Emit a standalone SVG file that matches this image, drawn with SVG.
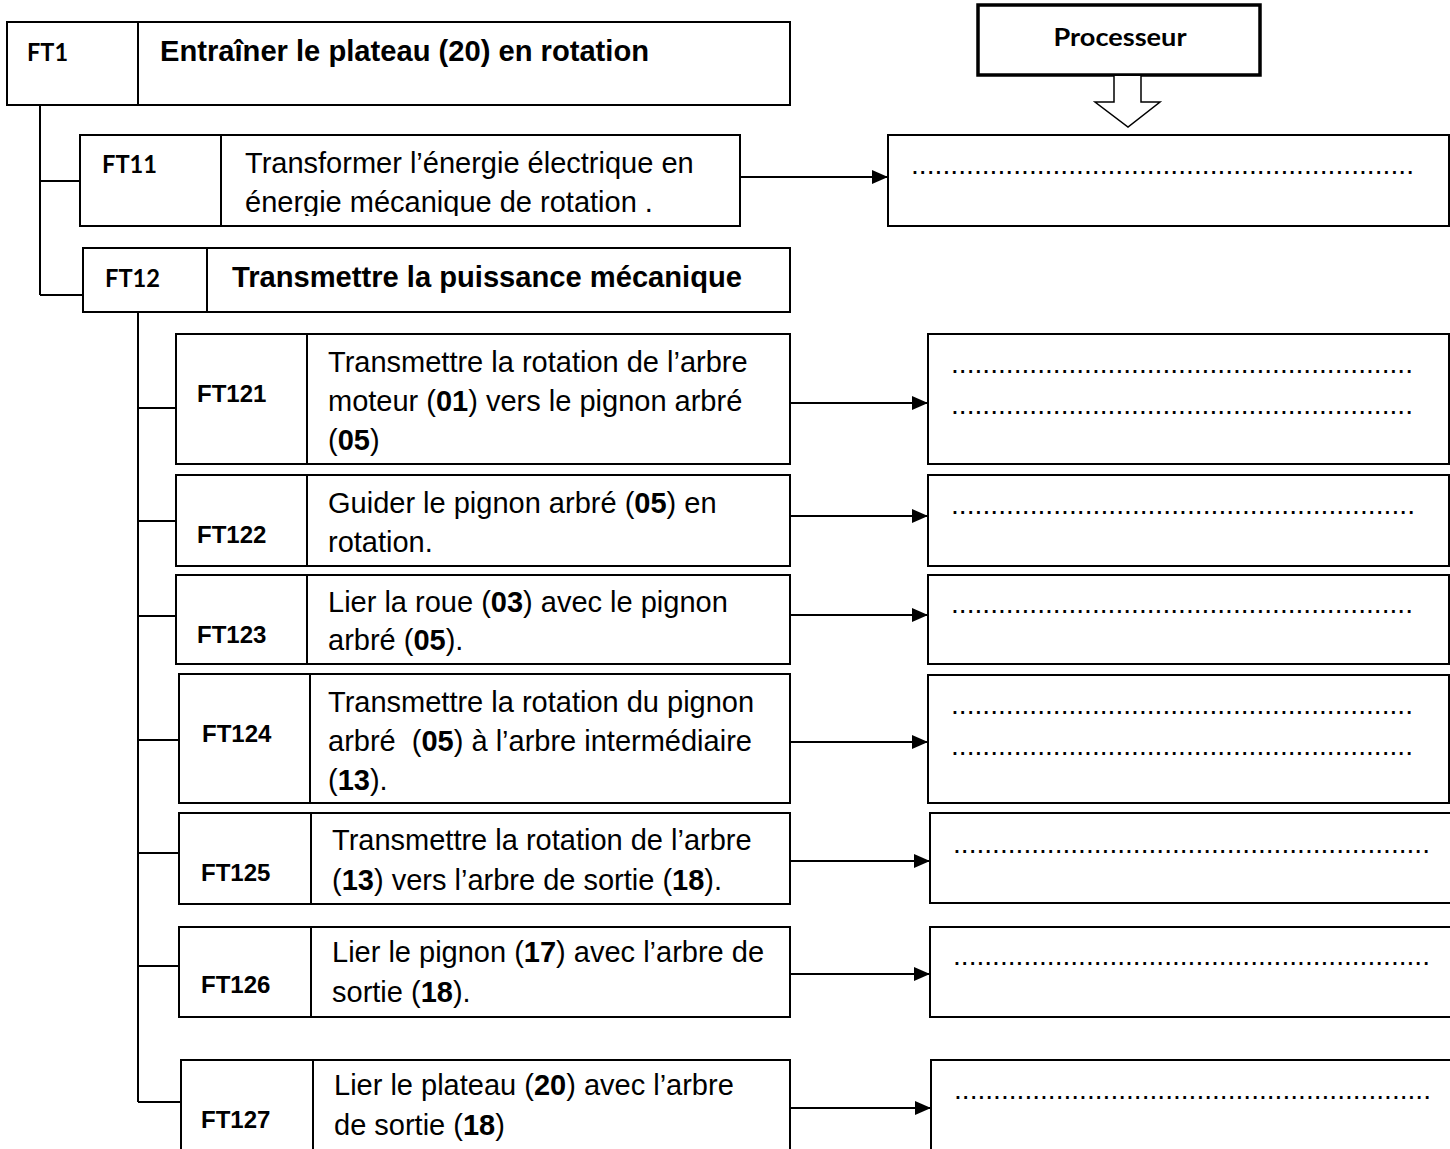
<svg xmlns="http://www.w3.org/2000/svg" width="1450" height="1149" viewBox="0 0 1450 1149">
<style>
.box{fill:#fff;stroke:#000;stroke-width:2}
.ln{stroke:#000;stroke-width:2;fill:none}
.arr{stroke:#000;stroke-width:2;fill:none;marker-end:url(#ah)}
.lbl{font-family:Lato,"Liberation Sans",sans-serif;font-weight:bold;font-size:24px;fill:#000}
.lab{font-family:"Liberation Sans",Arial,sans-serif;font-weight:bold;font-size:24px;fill:#000}
.t{font-family:"Liberation Sans",Arial,sans-serif;font-size:29px;fill:#000}
.tb{font-family:"Liberation Sans",Arial,sans-serif;font-size:29px;font-weight:bold;fill:#000}
.b{font-weight:bold}
.dots{font-family:"Liberation Sans",Arial,sans-serif;font-size:28px;fill:#000}
</style>
<defs>
<marker id="ah" viewBox="0 0 16 14" refX="16" refY="7" markerWidth="16" markerHeight="14" markerUnits="userSpaceOnUse" orient="auto">
<path d="M0,0 L16,7 L0,14 z" fill="#000"/>
</marker>
<clipPath id="clip11"><rect x="222" y="136" width="517" height="80"/></clipPath>
</defs>
<rect width="1450" height="1149" fill="#fff"/>

<g id="connectors">
<path class="ln" d="M40,105 V295 M40,181 H80 M40,295 H83"/>
<path class="ln" d="M138,312 V1102 M138,408 H176 M138,521 H176 M138,616 H176 M138,740 H179 M138,853 H179 M138,966 H179 M138,1102 H181"/>
<line class="arr" x1="740" y1="177" x2="888" y2="177"/>
<line class="arr" x1="790" y1="403" x2="928" y2="403"/>
<line class="arr" x1="790" y1="516" x2="928" y2="516"/>
<line class="arr" x1="790" y1="615" x2="928" y2="615"/>
<line class="arr" x1="790" y1="742" x2="928" y2="742"/>
<line class="arr" x1="790" y1="861" x2="930" y2="861"/>
<line class="arr" x1="790" y1="974" x2="930" y2="974"/>
<line class="arr" x1="790" y1="1108" x2="931" y2="1108"/>
</g>

<g id="processeur">
<rect x="978" y="5" width="282" height="70" fill="#fff" stroke="#000" stroke-width="3.5"/>
<text class="lbl" x="1120" y="46" text-anchor="middle" textLength="133" lengthAdjust="spacingAndGlyphs">Processeur</text>
<path d="M1114,76 V102 H1095 L1128,127 L1160,102 H1141 V76" fill="#fff" stroke="#000" stroke-width="1.5"/>
</g>

<g id="FT1">
<rect class="box" x="7" y="22" width="783" height="83"/>
<line class="ln" x1="138" y1="22" x2="138" y2="105"/>
<text class="lbl" x="27" y="61" textLength="41" lengthAdjust="spacingAndGlyphs">FT1</text>
<text class="tb" x="160" y="61" textLength="489" lengthAdjust="spacingAndGlyphs">Entraîner le plateau (20) en rotation</text>
</g>

<g id="FT11">
<rect class="box" x="80" y="135" width="660" height="91"/>
<line class="ln" x1="221" y1="135" x2="221" y2="226"/>
<text class="lbl" x="102" y="173" textLength="55" lengthAdjust="spacingAndGlyphs">FT11</text>
<g clip-path="url(#clip11)">
<text class="t" x="245" y="173">Transformer l’énergie électrique en</text>
<text class="t" x="245" y="212">énergie mécanique de rotation .</text>
</g>
</g>
<g id="R11">
<rect class="box" x="888" y="135" width="561" height="91"/>
<text class="dots" x="911" y="174" textLength="503" lengthAdjust="spacingAndGlyphs">................................................................</text>
</g>

<g id="FT12">
<rect class="box" x="83" y="248" width="707" height="64"/>
<line class="ln" x1="207" y1="248" x2="207" y2="312"/>
<text class="lbl" x="105" y="287" textLength="55" lengthAdjust="spacingAndGlyphs">FT12</text>
<text class="tb" x="232" y="287" textLength="510" lengthAdjust="spacingAndGlyphs">Transmettre la puissance mécanique</text>
</g>

<g id="FT121">
<rect class="box" x="176" y="334" width="614" height="130"/>
<line class="ln" x1="307" y1="334" x2="307" y2="464"/>
<text class="lab" x="197" y="402">FT121</text>
<text class="t" x="328" y="372">Transmettre la rotation de l’arbre</text>
<text class="t" x="328" y="411">moteur (<tspan class="b">01</tspan>) vers le pignon arbré</text>
<text class="t" x="328" y="450">(<tspan class="b">05</tspan>)</text>
</g>
<g id="R121">
<rect class="box" x="928" y="334" width="521" height="130"/>
<text class="dots" x="951" y="373" textLength="462" lengthAdjust="spacingAndGlyphs">...........................................................</text>
<text class="dots" x="951" y="414" textLength="462" lengthAdjust="spacingAndGlyphs">...........................................................</text>
</g>

<g id="FT122">
<rect class="box" x="176" y="475" width="614" height="91"/>
<line class="ln" x1="307" y1="475" x2="307" y2="566"/>
<text class="lab" x="197" y="543">FT122</text>
<text class="t" x="328" y="513">Guider le pignon arbré (<tspan class="b">05</tspan>) en</text>
<text class="t" x="328" y="552">rotation.</text>
</g>
<g id="R122">
<rect class="box" x="928" y="475" width="521" height="91"/>
<text class="dots" x="951" y="514" textLength="464" lengthAdjust="spacingAndGlyphs">...........................................................</text>
</g>

<g id="FT123">
<rect class="box" x="176" y="575" width="614" height="89"/>
<line class="ln" x1="307" y1="575" x2="307" y2="664"/>
<text class="lab" x="197" y="643">FT123</text>
<text class="t" x="328" y="612">Lier la roue (<tspan class="b">03</tspan>) avec le pignon</text>
<text class="t" x="328" y="650">arbré (<tspan class="b">05</tspan>).</text>
</g>
<g id="R123">
<rect class="box" x="928" y="575" width="521" height="89"/>
<text class="dots" x="951" y="613" textLength="462" lengthAdjust="spacingAndGlyphs">...........................................................</text>
</g>

<g id="FT124">
<rect class="box" x="179" y="674" width="611" height="129"/>
<line class="ln" x1="310" y1="674" x2="310" y2="803"/>
<text class="lab" x="202" y="742">FT124</text>
<text class="t" x="328" y="712">Transmettre la rotation du pignon</text>
<text class="t" x="328" y="751" xml:space="preserve">arbré  (<tspan class="b">05</tspan>) à l’arbre intermédiaire</text>
<text class="t" x="328" y="790">(<tspan class="b">13</tspan>).</text>
</g>
<g id="R124">
<rect class="box" x="928" y="675" width="521" height="128"/>
<text class="dots" x="951" y="714" textLength="462" lengthAdjust="spacingAndGlyphs">...........................................................</text>
<text class="dots" x="951" y="755" textLength="462" lengthAdjust="spacingAndGlyphs">...........................................................</text>
</g>

<g id="FT125">
<rect class="box" x="179" y="813" width="611" height="91"/>
<line class="ln" x1="311" y1="813" x2="311" y2="904"/>
<text class="lab" x="201" y="881">FT125</text>
<text class="t" x="332" y="850">Transmettre la rotation de l’arbre</text>
<text class="t" x="332" y="890">(<tspan class="b">13</tspan>) vers l’arbre de sortie (<tspan class="b">18</tspan>).</text>
</g>
<g id="R125">
<rect class="box" x="930" y="813" width="524" height="90"/>
<text class="dots" x="953" y="853" textLength="477" lengthAdjust="spacingAndGlyphs">.............................................................</text>
</g>

<g id="FT126">
<rect class="box" x="179" y="927" width="611" height="90"/>
<line class="ln" x1="311" y1="927" x2="311" y2="1017"/>
<text class="lab" x="201" y="993">FT126</text>
<text class="t" x="332" y="962">Lier le pignon (<tspan class="b">17</tspan>) avec l’arbre de</text>
<text class="t" x="332" y="1002">sortie (<tspan class="b">18</tspan>).</text>
</g>
<g id="R126">
<rect class="box" x="930" y="927" width="524" height="90"/>
<text class="dots" x="953" y="965" textLength="477" lengthAdjust="spacingAndGlyphs">.............................................................</text>
</g>

<g id="FT127">
<rect class="box" x="181" y="1060" width="609" height="95"/>
<line class="ln" x1="313" y1="1060" x2="313" y2="1155"/>
<text class="lab" x="201" y="1128">FT127</text>
<text class="t" x="334" y="1095">Lier le plateau (<tspan class="b">20</tspan>) avec l’arbre</text>
<text class="t" x="334" y="1135">de sortie (<tspan class="b">18</tspan>)</text>
</g>
<g id="R127">
<rect class="box" x="931" y="1060" width="524" height="95"/>
<text class="dots" x="954" y="1099" textLength="477" lengthAdjust="spacingAndGlyphs">.............................................................</text>
</g>
</svg>
